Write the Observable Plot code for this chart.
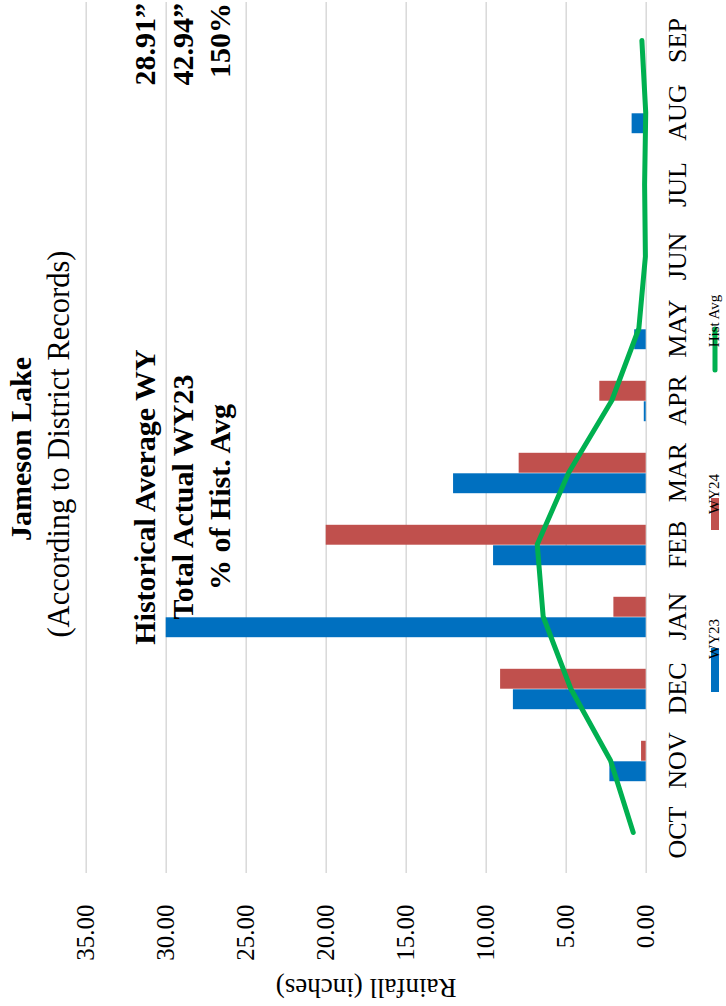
<!DOCTYPE html>
<html>
<head>
<meta charset="utf-8">
<script src="https://cdn.jsdelivr.net/npm/d3@7"></script>
<script src="https://cdn.jsdelivr.net/npm/@observablehq/plot@0.6"></script>
<style>
  html, body { margin: 0; padding: 0; background: #fff; overflow: hidden; }
  #wrap {
    position: absolute; left: 0; top: 0;
    width: 1006px; height: 726px;
    transform-origin: 0 0;
    transform: translate(0, 1006px) rotate(-90deg);
  }
</style>
</head>
<body>
<div id="wrap"></div>
<script>
// Monthly rainfall at Jameson Lake, water year Oct–Sep (inches)
const months = ["OCT", "NOV", "DEC", "JAN", "FEB", "MAR", "APR", "MAY", "JUN", "JUL", "AUG", "SEP"];
const wy23 = [0, 2.27, 8.3, 30.0, 9.54, 12.04, 0.12, 0.72, 0, 0, 0.88, 0];
const wy24 = [0, 0.29, 9.1, 2.02, 20.0, 7.94, 2.9, 0, 0, 0, 0, 0];
const histAvg = [0.81, 2.23, 4.72, 6.44, 6.81, 4.84, 2.15, 0.46, 0.05, 0.1, 0.03, 0.27];
const yTicks = [0, 5, 10, 15, 20, 25, 30, 35];

const summaryLabels = ["Historical Average WY", "Total Actual WY23", "% of Hist. Avg"];
const summaryValues = ["28.91\u201D", "42.94\u201D", "150%"];

const series = [
  {name: "WY23", color: "#0070C0"},
  {name: "WY24", color: "#C0504D"},
  {name: "Hist Avg", color: "#00B050"}
];

const rows = months.map((m, i) => ({month: m, wy23: wy23[i], wy24: wy24[i], hist: histAvg[i]}));

const W = 1006, H = 726;
const mL = 133, mR = 2, mT = 85.7, mB = 80.3;
const step = (W - mL - mR) / months.length;
const barW = 20.5;
const half = step / 2;
const font = "'Liberation Serif', 'Times New Roman', serif";

const chart = Plot.plot({
  width: W,
  height: H,
  marginLeft: mL,
  marginRight: mR,
  marginTop: mT,
  marginBottom: mB,
  style: {fontFamily: font, color: "#000", background: "#fff"},
  x: {type: "band", domain: months, padding: 0},
  y: {domain: [0, 35]},
  marks: [
    Plot.gridY(yTicks, {stroke: "#d9d9d9", strokeOpacity: 1, strokeWidth: 1.5}),
    Plot.axisY(yTicks, {
      tickSize: 0, tickPadding: 32, fontSize: 25,
      tickFormat: d3.format(".2f"), label: null
    }),
    Plot.axisX({tickSize: 0, tickPadding: 21, fontSize: 26, label: null}),
    Plot.barY(rows, {
      x: "month", y: "wy23", fill: series[0].color,
      insetLeft: half - barW, insetRight: half
    }),
    Plot.barY(rows, {
      x: "month", y: "wy24", fill: series[1].color,
      insetLeft: half, insetRight: half - barW
    }),
    Plot.line(rows, {
      x: "month", y: "hist", stroke: series[2].color,
      strokeWidth: 5, strokeLinecap: "round", strokeLinejoin: "round"
    }),
    Plot.text(["Rainfall (inches)"], {
      frameAnchor: "left", rotate: -90, dx: -115,
      fontSize: 27, fill: "#000", textAnchor: "middle"
    })
  ]
});

const svg = d3.select(chart);

// Title block
svg.append("text")
  .attr("x", 557).attr("y", 31)
  .attr("text-anchor", "middle")
  .attr("font-weight", "bold").attr("font-size", 30)
  .attr("font-family", font)
  .text("Jameson Lake");
svg.append("text")
  .attr("x", 562).attr("y", 69)
  .attr("text-anchor", "middle")
  .attr("font-size", 30.5)
  .attr("font-family", font)
  .text("(According to District Records)");

// Water-year summary box
const boxBase = [155, 193, 230];
summaryLabels.forEach((t, i) => {
  svg.append("text")
    .attr("x", 509).attr("y", boxBase[i])
    .attr("font-weight", "bold").attr("font-size", 30)
    .attr("font-family", font)
    .text(t);
  svg.append("text")
    .attr("x", 1003).attr("y", boxBase[i])
    .attr("text-anchor", "end")
    .attr("font-weight", "bold").attr("font-size", 30)
    .attr("font-family", font)
    .text(summaryValues[i]);
});

// Legend
const lg = svg.append("g").attr("font-family", font).attr("font-size", 15);
lg.append("rect").attr("x", 314).attr("y", 711).attr("width", 44).attr("height", 8)
  .attr("fill", series[0].color);
lg.append("text").attr("x", 367).attr("y", 719).text(series[0].name);
lg.append("rect").attr("x", 476).attr("y", 711).attr("width", 32).attr("height", 8)
  .attr("fill", series[1].color);
lg.append("text").attr("x", 512).attr("y", 719).text(series[1].name);
lg.append("line").attr("x1", 636).attr("x2", 677).attr("y1", 715).attr("y2", 715)
  .attr("stroke", series[2].color).attr("stroke-width", 5).attr("stroke-linecap", "round");
lg.append("text").attr("x", 685).attr("y", 719).text(series[2].name);

document.getElementById("wrap").appendChild(chart);
</script>
</body>
</html>
